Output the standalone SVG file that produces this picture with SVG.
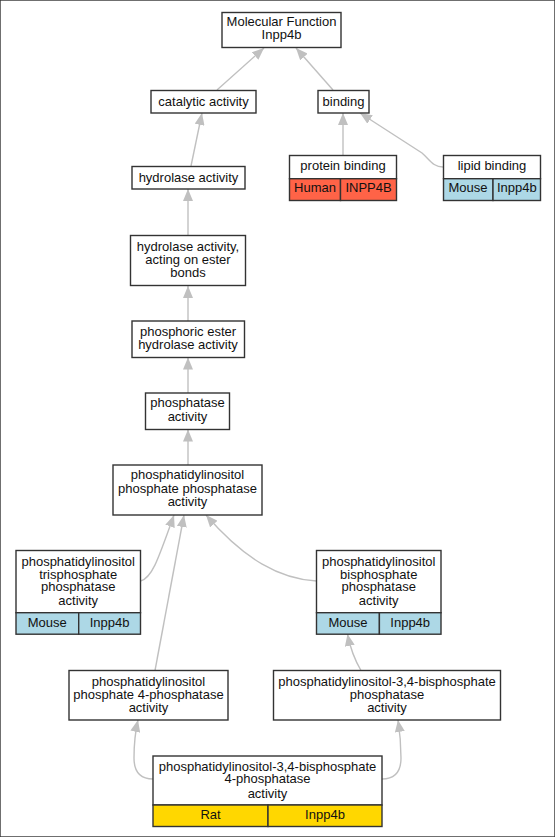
<svg xmlns="http://www.w3.org/2000/svg" width="555" height="837" viewBox="0 0 555 837">
<style>
rect{stroke:#333;stroke-width:1.4}
.n{fill:#fff}
.h{fill:#ff6347}
.m{fill:#add8e6}
.r{fill:#ffd700}
text{font-family:"Liberation Sans",Arial,sans-serif;font-size:13px;fill:#111;text-anchor:middle}
.e path{fill:none;stroke:#c0c0c0;stroke-width:1.4}
</style>
<defs>
<marker id="a" markerUnits="userSpaceOnUse" markerWidth="12" markerHeight="10" refX="12" refY="5" orient="auto">
<path d="M0,0 L12,5 L0,10 z" fill="#c0c0c0"/>
</marker>
</defs>
<rect width="555" height="837" fill="#fff" stroke="none"/>
<g class="e">
<path d="M217,90 L264,48" marker-end="url(#a)"/>
<path d="M333,90 L296,48" marker-end="url(#a)"/>
<path d="M343,155 L343,113" marker-end="url(#a)"/>
<path d="M443,167 C433,167 430,160 422,153 L360,113" marker-end="url(#a)"/>
<path d="M191,166 L202,113" marker-end="url(#a)"/>
<path d="M188,235 L188,189" marker-end="url(#a)"/>
<path d="M188,321 L188,286" marker-end="url(#a)"/>
<path d="M188,393 L188,357.5" marker-end="url(#a)"/>
<path d="M188,465 L188,429.5" marker-end="url(#a)"/>
<path d="M140.5,581 C152,578 158,560 174,515" marker-end="url(#a)"/>
<path d="M155,670.5 L184,515" marker-end="url(#a)"/>
<path d="M316.5,581 C280,579 245,560 206,515" marker-end="url(#a)"/>
<path d="M361,670.5 C356,662 351,652 347.5,634" marker-end="url(#a)"/>
<path d="M153,779 C140,779 134,772 134,758 C134,745 135,733 138,720" marker-end="url(#a)"/>
<path d="M382,779 C394,779 401,772 401,758 C401,745 400,733 398,720" marker-end="url(#a)"/>
</g>
<g id="mf">
<rect class="n" x="222" y="12.5" width="119" height="35"/>
<text x="281.5" y="26">Molecular Function</text>
<text x="281.5" y="39">Inpp4b</text>
</g>
<g id="catalytic">
<rect class="n" x="151" y="90.5" width="105" height="22.5"/>
<text x="203.5" y="106">catalytic activity</text>
</g>
<g id="binding">
<rect class="n" x="318" y="90.5" width="51" height="22.5"/>
<text x="343.5" y="106">binding</text>
</g>
<g id="hydrolase">
<rect class="n" x="132" y="166.5" width="113" height="22.5"/>
<text x="188.5" y="182">hydrolase activity</text>
</g>
<g id="protein">
<rect class="n" x="289.5" y="155.5" width="107" height="23.2"/>
<rect class="h" x="289.5" y="178.7" width="51" height="21.8"/>
<rect class="h" x="340.5" y="178.7" width="56" height="21.8"/>
<text x="343" y="170">protein binding</text>
<text x="315" y="192">Human</text>
<text x="368.5" y="192">INPP4B</text>
</g>
<g id="lipid">
<rect class="n" x="443.5" y="155.5" width="97" height="23.2"/>
<rect class="m" x="443.5" y="178.7" width="49.5" height="21.8"/>
<rect class="m" x="493" y="178.7" width="47.5" height="21.8"/>
<text x="492" y="170">lipid binding</text>
<text x="468" y="192">Mouse</text>
<text x="516.8" y="192">Inpp4b</text>
</g>
<g id="ester">
<rect class="n" x="130.5" y="235.5" width="115" height="50"/>
<text x="188" y="250.5">hydrolase activity,</text>
<text x="188" y="263.5">acting on ester</text>
<text x="188" y="277">bonds</text>
</g>
<g id="phosphoric">
<rect class="n" x="132" y="321" width="112.5" height="36.5"/>
<text x="188" y="335.5">phosphoric ester</text>
<text x="188" y="349">hydrolase activity</text>
</g>
<g id="phosphatase">
<rect class="n" x="145.5" y="393" width="84" height="36.5"/>
<text x="187.5" y="407">phosphatase</text>
<text x="187.5" y="420.8">activity</text>
</g>
<g id="pip">
<rect class="n" x="113" y="465" width="149" height="50"/>
<text x="187.5" y="478.8">phosphatidylinositol</text>
<text x="187.5" y="493">phosphate phosphatase</text>
<text x="187.5" y="506">activity</text>
</g>
<g id="tris">
<rect class="n" x="16" y="550.5" width="124.5" height="62.2"/>
<rect class="m" x="16" y="612.7" width="62.7" height="21.5"/>
<rect class="m" x="78.7" y="612.7" width="61.8" height="21.5"/>
<text x="78.2" y="565.5">phosphatidylinositol</text>
<text x="78.2" y="578.5">trisphosphate</text>
<text x="78.2" y="591">phosphatase</text>
<text x="78.2" y="605">activity</text>
<text x="47.3" y="627">Mouse</text>
<text x="109.6" y="627">Inpp4b</text>
</g>
<g id="bis">
<rect class="n" x="316.5" y="550.5" width="124.5" height="62.2"/>
<rect class="m" x="316.5" y="612.7" width="62.9" height="21.5"/>
<rect class="m" x="379.4" y="612.7" width="61.6" height="21.5"/>
<text x="378.7" y="565.5">phosphatidylinositol</text>
<text x="378.7" y="578.5">bisphosphate</text>
<text x="378.7" y="591">phosphatase</text>
<text x="378.7" y="605">activity</text>
<text x="348" y="627">Mouse</text>
<text x="410.2" y="627">Inpp4b</text>
</g>
<g id="pi4">
<rect class="n" x="69" y="670.5" width="159" height="49.5"/>
<text x="148.5" y="686">phosphatidylinositol</text>
<text x="148.5" y="698.5">phosphate 4-phosphatase</text>
<text x="148.5" y="711.5">activity</text>
</g>
<g id="pi34">
<rect class="n" x="273.5" y="670.5" width="227" height="49.5"/>
<text x="387" y="686">phosphatidylinositol-3,4-bisphosphate</text>
<text x="387" y="698.5">phosphatase</text>
<text x="387" y="711.5">activity</text>
</g>
<g id="bottom">
<rect class="n" x="153" y="756" width="229" height="49"/>
<rect class="r" x="153" y="805" width="115" height="21.5"/>
<rect class="r" x="268" y="805" width="114" height="21.5"/>
<text x="267.5" y="770.5">phosphatidylinositol-3,4-bisphosphate</text>
<text x="267.5" y="783">4-phosphatase</text>
<text x="267.5" y="797.5">activity</text>
<text x="210.5" y="819">Rat</text>
<text x="325" y="819">Inpp4b</text>
</g>
</svg>
